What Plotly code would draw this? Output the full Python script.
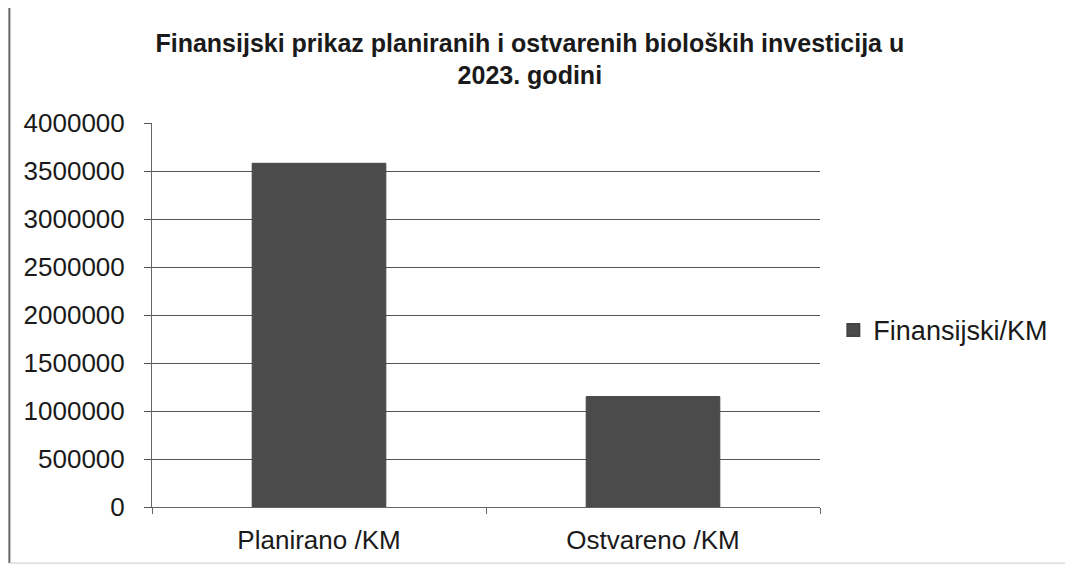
import plotly.graph_objects as go

# Podaci
kategorije = ['Planirano /KM', 'Ostvareno /KM']
finansijski = [3580000, 1150000]
y_tickovi = [0, 500000, 1000000, 1500000, 2000000, 2500000, 3000000, 3500000, 4000000]

fig = go.Figure()
fig.add_trace(go.Bar(
    x=kategorije,
    y=finansijski,
    name='Finansijski/KM',
    marker=dict(color='#4b4b4b', line=dict(color='#444444', width=1)),
    showlegend=True
))

# stranica ima 8px margine, pa je figura 1065x560
fig.update_layout(
    width=1065,
    height=560,
    paper_bgcolor='white',
    plot_bgcolor='white',
    margin=dict(l=144, r=253, t=115, b=61),
    bargap=0.6,
    font=dict(family='Liberation Sans, Arial, sans-serif', size=26, color='#1a1a1a'),
    title=dict(
        text='<b>Finansijski prikaz planiranih i ostvarenih bioloških investicija u<br>2023. godini</b>',
        x=0.49, xanchor='center',
        y=0.922, yanchor='top',
        font=dict(size=25, color='#1a1a1a')
    ),
    legend=dict(
        x=1.02, y=0.46,
        xanchor='left', yanchor='middle',
        font=dict(size=27),
        itemsizing='constant'
    ),
    xaxis=dict(
        showline=True, linecolor='#666666', linewidth=1,
        ticks='outside', tickson='boundaries', ticklen=6, tickcolor='#666666',
        ticklabelstandoff=10,
        showgrid=False
    ),
    yaxis=dict(
        range=[0, 4000000],
        tickvals=y_tickovi,
        ticktext=[str(v) for v in y_tickovi],
        showline=True, linecolor='#666666', linewidth=1,
        ticks='outside', ticklen=7, tickcolor='#555555',
        ticklabelstandoff=14,
        showgrid=True, gridcolor='#555555', gridwidth=1,
        zeroline=False
    )
)

# okvir skeniranog grafika (lijeva i donja ivica)
fig.add_shape(type='line', xref='paper', yref='paper',
              x0=-0.2135, x1=-0.2135, y0=-0.146, y1=1.30,
              line=dict(color='#666666', width=2))
fig.add_shape(type='line', xref='paper', yref='paper',
              x0=-0.2135, x1=1.37, y0=-0.146, y1=-0.146,
              line=dict(color='#cccccc', width=1))

fig.write_html('out.html')
